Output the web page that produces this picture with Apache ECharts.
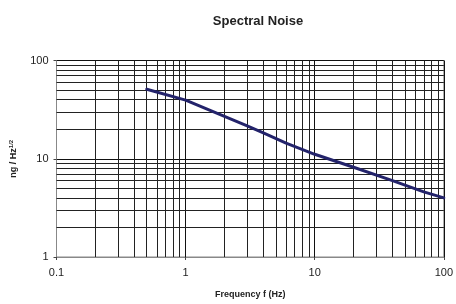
<!DOCTYPE html>
<html>
<head>
<meta charset="utf-8">
<script src="https://cdn.jsdelivr.net/npm/echarts@6/dist/echarts.min.js"></script>
<style>
  html, body { margin: 0; padding: 0; background: #fff; }
  #chart { width: 456px; height: 304px; }
</style>
</head>
<body>
<div id="chart"></div>
<script>
// Dados
const frequencias = [0.5, 1, 2, 3, 4, 6, 10, 20, 40, 70, 100];
const ruido = [51, 39.5, 27, 21.6, 18.3, 14.4, 11.1, 8.2, 6.0, 4.6, 4.0];
const linhasX = [0.2, 0.3, 0.4, 0.5, 0.6, 0.7, 0.8, 0.9, 2, 3, 4, 5, 6, 7, 8, 9, 20, 30, 40, 50, 60, 70, 80, 90];
const linhasY = [2, 3, 4, 5, 6, 7, 8, 9, 20, 30, 40, 50, 60, 70, 80, 90];

const fonte = "Liberation Sans, Arial, sans-serif";

let grade = [];
linhasX.forEach((v) => grade.push({ xAxis: v }));
linhasY.forEach((v) => grade.push({ yAxis: v }));

let options = {
  animation: false,
  title: {
    text: "Spectral Noise",
    left: 253,
    top: 10,
    textAlign: "center",
    textStyle: { fontFamily: fonte, fontSize: 13, fontWeight: "bold", color: "#222" },
  },
  grid: {
    left: 56.5,
    right: 8,
    top: 60.5,
    bottom: 44,
    show: true,
    borderColor: "#888",
    borderWidth: 1,
  },
  xAxis: {
    type: "log",
    logBase: 10,
    min: 0.1,
    max: 100,
    name: "Frequency f (Hz)",
    nameLocation: "middle",
    nameGap: 33,
    nameTextStyle: { fontFamily: fonte, fontSize: 9, fontWeight: "bold", color: "#222" },
    axisLine: { show: true, lineStyle: { color: "#888", width: 1 } },
    axisTick: { show: true, length: 3, lineStyle: { color: "#444" } },
    axisLabel: {
      fontFamily: fonte,
      fontSize: 11,
      color: "#222",
      margin: 10,
      formatter: (v) => String(v),
    },
    splitLine: { show: true, lineStyle: { color: "#111", width: 1 } },
  },
  yAxis: {
    type: "log",
    logBase: 10,
    min: 1,
    max: 100,
    name: "ng / Hz{s|1/2}",
    nameLocation: "middle",
    nameGap: 38,
    nameRotate: 90,
    nameTextStyle: {
      fontFamily: fonte,
      fontSize: 9,
      fontWeight: "bold",
      color: "#222",
      rich: {
        s: { fontFamily: fonte, fontSize: 6, fontWeight: "bold", color: "#222", verticalAlign: "top", padding: [0, 0, 4, 0] },
      },
    },
    axisLine: { show: true, lineStyle: { color: "#888", width: 1 } },
    axisTick: { show: true, length: 3, lineStyle: { color: "#444" } },
    axisLabel: { fontFamily: fonte, fontSize: 11, color: "#222", margin: 8 },
    splitLine: { show: true, lineStyle: { color: "#111", width: 1 } },
  },
  series: [
    {
      name: "Spectral Noise",
      type: "line",
      symbol: "none",
      smooth: false,
      data: frequencias.map((f, i) => [f, ruido[i]]),
      lineStyle: { color: "#23236b", width: 3, join: "round", cap: "round" },
      z: 5,
      markLine: {
        silent: true,
        symbol: "none",
        label: { show: false },
        lineStyle: { color: "#222", width: 1, type: "solid" },
        data: grade,
        z: 1,
      },
    },
  ],
};

var chart = echarts.init(document.getElementById("chart"));
chart.setOption(options);
window.addEventListener("resize", function () {
  chart.resize();
});
</script>
</body>
</html>
